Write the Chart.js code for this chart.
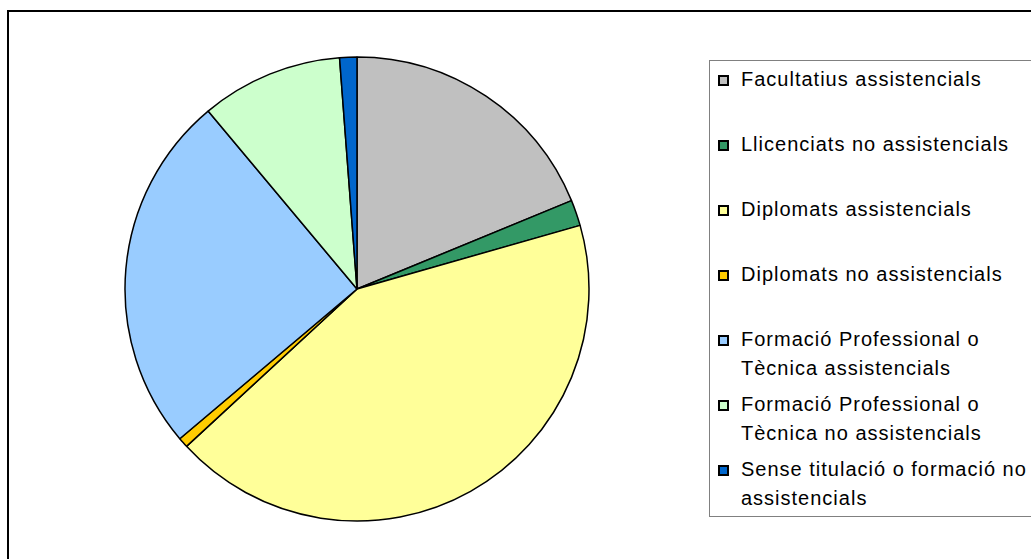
<!DOCTYPE html>
<html>
<head>
<meta charset="utf-8">
<script src="https://cdn.jsdelivr.net/npm/chart.js@4.4.1/dist/chart.umd.min.js"></script>
<style>
  html, body { margin:0; padding:0; background:#fff; width:1031px; height:559px; overflow:hidden; }
  #frame { position:absolute; left:7px; top:10px; width:1100px; height:600px; border:2px solid #000; box-sizing:border-box; }
  #wrap { position:absolute; left:122px; top:54px; width:470px; height:470px; }
  #legend { position:absolute; left:709px; top:60px; width:400px; height:457px; border:1px solid #808080; box-sizing:border-box; background:#fff; }
  .item { position:absolute; left:8px; height:65px; font-family:"Liberation Sans", Arial, sans-serif; font-size:20px; letter-spacing:1px; line-height:29px; color:#000; }
  .sw { position:absolute; left:0; top:10px; width:11px; height:11px; border:2px solid #000; box-sizing:border-box; }
  .tx { position:absolute; left:23px; top:0; white-space:nowrap; }
</style>
</head>
<body>
<div id="frame"></div>
<div id="wrap"><canvas id="c"></canvas></div>
<div id="legend"></div>
<script>
const categories = [
  ["Facultatius assistencials"],
  ["Llicenciats no assistencials"],
  ["Diplomats assistencials"],
  ["Diplomats no assistencials"],
  ["Formació Professional o", "Tècnica assistencials"],
  ["Formació Professional o", "Tècnica no assistencials"],
  ["Sense titulació o formació no", "assistencials"]
];
const values = [18.8, 1.8, 42.6, 0.7, 25.1, 9.9, 1.2];
const colors = ["#C0C0C0", "#339966", "#FFFF99", "#FFCC00", "#99CCFF", "#CCFFCC", "#0066CC"];

new Chart(document.getElementById('c'), {
  type: 'pie',
  data: {
    labels: categories,
    datasets: [{
      data: values,
      backgroundColor: colors,
      borderColor: '#000',
      borderWidth: 1.5
    }]
  },
  options: {
    responsive: true,
    maintainAspectRatio: false,
    animation: false,
    radius: 232,
    layout: { padding: 0 },
    plugins: { legend: { display: false }, tooltip: { enabled: false } }
  }
});

const lg = document.getElementById('legend');
categories.forEach((lines, i) => {
  const it = document.createElement('div');
  it.className = 'item';
  it.style.top = (4 + i * 65) + 'px';
  const sw = document.createElement('div');
  sw.className = 'sw';
  sw.style.background = colors[i];
  const tx = document.createElement('div');
  tx.className = 'tx';
  tx.innerHTML = lines.map(s => s.replace(/&/g,'&amp;')).join('<br>');
  it.appendChild(sw); it.appendChild(tx);
  lg.appendChild(it);
});
</script>
</body>
</html>
